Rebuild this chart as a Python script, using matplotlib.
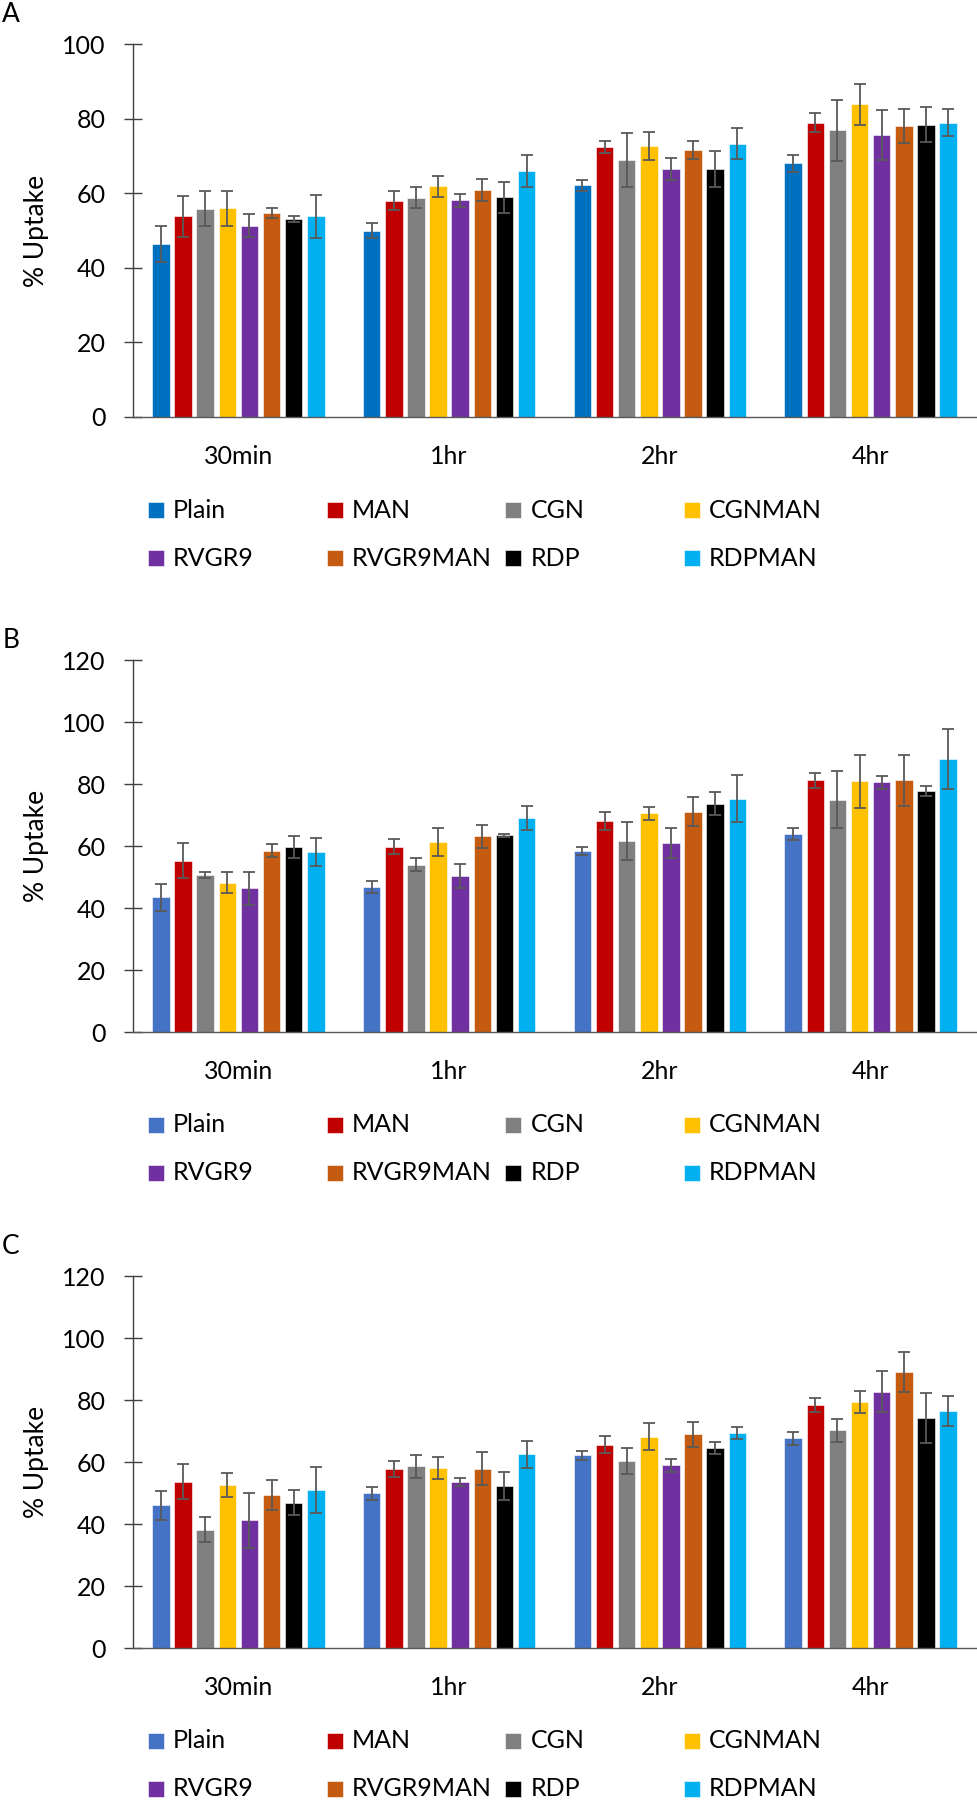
import matplotlib
matplotlib.use("Agg")
import matplotlib.pyplot as plt
from matplotlib.patches import Rectangle
import numpy as np

plt.rcParams['font.family'] = ['Lato', 'DejaVu Sans']

times = ["30min", "1hr", "2hr", "4hr"]
series = ["Plain", "MAN", "CGN", "CGNMAN", "RVGR9", "RVGR9MAN", "RDP", "RDPMAN"]
colors_a = ["#0070C0", "#C00000", "#808080", "#FFC000", "#7030A0", "#C55A11", "#000000", "#00B0F0"]
colors_bc = ["#4472C4", "#C00000", "#808080", "#FFC000", "#7030A0", "#C55A11", "#000000", "#00B0F0"]

# Panel A (rows = series, cols = times)
a_mean = [[46.3, 50.0, 62.1, 68.0],
          [53.8, 58.0, 72.4, 78.9],
          [55.8, 58.8, 68.9, 76.9],
          [56.0, 61.8, 72.7, 83.9],
          [51.3, 58.1, 66.5, 75.7],
          [54.7, 60.9, 71.6, 78.1],
          [53.1, 58.9, 66.5, 78.4],
          [53.8, 65.9, 73.3, 78.9]]
a_err = [[4.8, 2.1, 1.5, 2.2],
         [5.5, 2.5, 1.7, 2.5],
         [4.7, 2.8, 7.2, 8.2],
         [4.7, 2.9, 3.7, 5.5],
         [3.1, 1.8, 3.0, 6.7],
         [1.3, 2.9, 2.5, 4.6],
         [0.8, 4.1, 4.8, 4.8],
         [5.8, 4.3, 4.2, 3.6]]

# Panel B
b_mean = [[43.4, 46.7, 58.3, 63.8],
          [55.3, 59.7, 68.1, 81.2],
          [50.6, 53.9, 61.5, 74.9],
          [48.2, 61.3, 70.5, 80.9],
          [46.3, 50.3, 61.0, 80.6],
          [58.5, 63.2, 71.1, 81.2],
          [59.7, 63.4, 73.7, 77.7],
          [58.1, 69.0, 75.2, 88.0]]
b_err = [[4.4, 1.9, 1.3, 2.0],
         [5.6, 2.4, 3.0, 2.5],
         [0.9, 2.1, 6.1, 9.2],
         [3.5, 4.5, 2.1, 8.6],
         [5.2, 3.9, 4.9, 2.1],
         [2.2, 3.7, 4.8, 8.2],
         [3.5, 0.6, 3.8, 1.6],
         [4.6, 3.9, 7.6, 9.7]]

# Panel C
c_mean = [[46.0, 49.9, 62.1, 67.7],
          [53.6, 57.7, 65.6, 78.4],
          [38.2, 58.6, 60.3, 70.2],
          [52.6, 58.0, 68.2, 79.4],
          [41.2, 53.6, 59.0, 82.7],
          [49.3, 57.9, 68.9, 89.0],
          [46.9, 52.4, 64.5, 74.2],
          [50.9, 62.5, 69.3, 76.4]]
c_err = [[4.8, 2.0, 1.5, 2.1],
         [5.6, 2.5, 2.8, 2.4],
         [4.1, 3.6, 4.3, 3.6],
         [4.0, 3.6, 4.4, 3.6],
         [8.8, 1.3, 2.1, 6.7],
         [4.9, 5.2, 4.0, 6.4],
         [4.1, 4.5, 1.9, 8.0],
         [7.4, 4.3, 2.0, 4.9]]

W, H = 977, 1800
fig = plt.figure(figsize=(W / 100, H / 100), dpi=100)

FS = 18
panels = [
    ("A", a_mean, a_err, colors_a, 100, 44, 417),
    ("B", b_mean, b_err, colors_bc, 120, 660, 1032),
    ("C", c_mean, c_err, colors_bc, 120, 1276, 1648),
]

left_px, right_px = 133, 976
pitch = 0.105
bw = 0.083

for label, means, errs, cols, ymax, top_px, bot_px in panels:
    ax = fig.add_axes([left_px / W, 1 - bot_px / H, (right_px - left_px) / W, (bot_px - top_px) / H])
    x = np.arange(len(times))
    for i, name in enumerate(series):
        off = (i - 3.5) * pitch
        ax.bar(x + off, means[i], width=bw, color=cols[i], edgecolor="white", linewidth=0.4,
               yerr=errs[i], error_kw=dict(ecolor="#595959", elinewidth=1.3, capsize=4.5, capthick=1.3),
               zorder=2)
    ax.set_xlim(-0.5, 3.5)
    ax.set_ylim(0, ymax)
    ax.set_yticks(np.arange(0, ymax + 1, 20))
    ax.set_xticks(x)
    ax.set_xticklabels(times)
    ax.tick_params(axis='y', direction='inout', length=13.4, width=1.0, color="#404040",
                   labelsize=FS, pad=13.0)
    ax.tick_params(axis='x', length=0, labelsize=FS, pad=20)
    for s in ("top", "right"):
        ax.spines[s].set_visible(False)
    ax.spines["left"].set_color("#404040")
    ax.spines["left"].set_linewidth(1.0)
    ax.spines["bottom"].set_color("#595959")
    ax.spines["bottom"].set_linewidth(1.0)
    ax.set_ylabel("% Uptake", fontsize=FS + 1)
    ax.yaxis.set_label_coords(-(left_px - 49) / (right_px - left_px), 0.5)
    # panel label
    fig.text(11 / W, 1 - (top_px - (29 if label != "B" else 20)) / H, label, fontsize=FS + 1,
             ha="center", va="center")
    # legend (Excel-like uniform columns)
    row_y = [bot_px + 93, bot_px + 141]
    for i, name in enumerate(series):
        r, c = divmod(i, 4)
        mx = 148 + c * 178.7
        my = row_y[r]
        fig.add_artist(Rectangle((mx / W, 1 - (my + 8) / H), 16 / W, 16 / H,
                                 transform=fig.transFigure, facecolor=cols[i],
                                 edgecolor="white", linewidth=0.4))
        fig.text((mx + 25) / W, 1 - my / H, name, fontsize=FS, ha="left", va="center")

fig.savefig("out.png", dpi=100)
